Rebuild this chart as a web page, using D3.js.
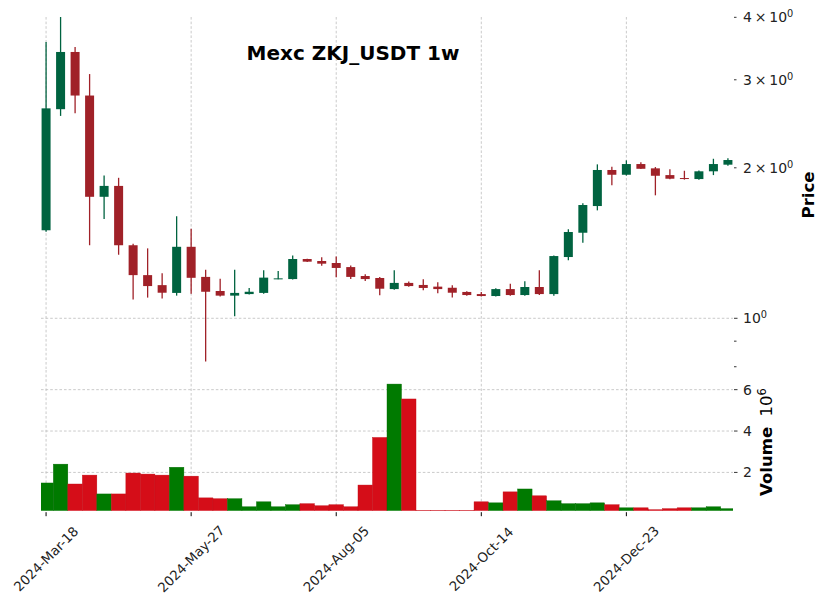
<!DOCTYPE html>
<html><head><meta charset="utf-8">
<script src="https://cdn.jsdelivr.net/npm/d3@7"></script>
<style>body{margin:0;background:#fff}svg{display:block;font-family:"DejaVu Sans",sans-serif}</style>
</head><body><svg id="c" width="826" height="606"></svg>
<script>
const title = "Mexc ZKJ_USDT 1w";
const dates = ["2024-03-18","2024-03-25","2024-04-01","2024-04-08","2024-04-15","2024-04-22","2024-04-29","2024-05-06","2024-05-13","2024-05-20",
"2024-05-27","2024-06-03","2024-06-10","2024-06-17","2024-06-24","2024-07-01","2024-07-08","2024-07-15","2024-07-22","2024-07-29",
"2024-08-05","2024-08-12","2024-08-19","2024-08-26","2024-09-02","2024-09-09","2024-09-16","2024-09-23","2024-09-30","2024-10-07",
"2024-10-14","2024-10-21","2024-10-28","2024-11-04","2024-11-11","2024-11-18","2024-11-25","2024-12-02","2024-12-09","2024-12-16",
"2024-12-23","2024-12-30","2025-01-06","2025-01-13","2025-01-20","2025-01-27","2025-02-03","2025-02-10"];
const opens  = [1.50,2.62,3.41,2.79,1.75,1.84,1.40,1.22,1.165,1.124,1.39,1.21,1.134,1.11,1.118,1.124,1.198,1.198,1.314,1.302,
1.29,1.266,1.215,1.204,1.144,1.177,1.166,1.157,1.151,1.129,1.118,1.108,1.144,1.113,1.155,1.118,1.326,1.483,1.677,1.98,
1.937,2.035,1.995,1.934,1.908,1.899,1.968,2.029];
const highs  = [3.57,4.05,3.49,3.08,1.93,1.91,1.41,1.38,1.23,1.60,1.51,1.25,1.20,1.25,1.15,1.247,1.243,1.336,1.316,1.324,
1.33,1.276,1.225,1.21,1.247,1.184,1.197,1.18,1.164,1.132,1.129,1.148,1.173,1.186,1.247,1.335,1.507,1.698,2.032,2.01,
2.07,2.051,2.007,1.986,1.973,1.976,2.085,2.089];
const lows   = [1.49,2.54,2.57,1.40,1.58,1.34,1.09,1.10,1.095,1.11,1.12,0.82,1.105,1.01,1.116,1.12,1.197,1.196,1.296,1.274,
1.208,1.198,1.188,1.112,1.141,1.157,1.138,1.122,1.101,1.11,1.106,1.105,1.11,1.11,1.113,1.11,1.306,1.416,1.644,1.845,
1.93,1.988,1.762,1.898,1.894,1.894,1.934,2.02];
const closes = [2.63,3.41,2.79,1.75,1.84,1.40,1.22,1.16,1.125,1.39,1.205,1.13,1.11,1.124,1.13,1.206,1.202,1.314,1.298,1.286,
1.261,1.21,1.198,1.146,1.177,1.16,1.15,1.144,1.125,1.113,1.108,1.144,1.113,1.155,1.118,1.332,1.488,1.685,1.98,1.937,
2.035,1.991,1.928,1.902,1.900,1.968,2.035,2.073];
const volumes = [1.49,2.40,1.44,1.87,0.96,0.96,1.97,1.92,1.87,2.25,1.82,0.77,0.73,0.73,0.34,0.58,0.34,0.44,0.49,0.39,
0.44,0.34,1.39,3.69,6.27,5.55,0.17,0.17,0.17,0.17,0.58,0.53,1.06,1.20,0.87,0.63,0.49,0.49,0.53,0.44,
0.29,0.29,0.20,0.25,0.29,0.29,0.34,0.25]; // millions
const xTickIdx = [0,10,20,30,40];
const priceTicks = [1,2,3,4];
const priceTickLabels = ["10","2\u2009×\u200910","3\u2009×\u200910","4\u2009×\u200910"];
const priceMinorTicks = [0.8,0.9];
const volTicks = [2,4,6];

const upC = "#006340", downC = "#a02128", vUp = "#007a00", vDown = "#d50d18";
const svg = d3.select("#c");
const L = 41, R = 733, pTop = 17, pBot = 369, vTop = 370, vBot = 510.7;
const x = d3.scaleLinear().domain([-0.35, dates.length - 0.65]).range([L, R]);
const y = d3.scaleLog().domain([0.7917, 4.006]).range([pBot, pTop]);
const yv = d3.scaleLinear().domain([0.15, 6.95]).range([vBot, vTop]);
const step = x(1) - x(0);
const grid = {stroke:"#bdbdbd", w:0.8, dash:"2.6,2"};

const defs = svg.append("defs");
defs.append("clipPath").attr("id","cp").append("rect").attr("x",L).attr("y",pTop).attr("width",R-L).attr("height",pBot-pTop);
defs.append("clipPath").attr("id","cv").append("rect").attr("x",L).attr("y",vTop).attr("width",R-L).attr("height",vBot-vTop);

// grids
const g = svg.append("g");
xTickIdx.forEach(i => {
  g.append("line").attr("x1",x(i)).attr("x2",x(i)).attr("y1",pTop).attr("y2",pBot)
   .attr("stroke",grid.stroke).attr("stroke-width",grid.w).attr("stroke-dasharray",grid.dash);
  g.append("line").attr("x1",x(i)).attr("x2",x(i)).attr("y1",vTop).attr("y2",vBot)
   .attr("stroke",grid.stroke).attr("stroke-width",grid.w).attr("stroke-dasharray",grid.dash);
});
g.append("line").attr("x1",L).attr("x2",R).attr("y1",y(1)).attr("y2",y(1))
 .attr("stroke",grid.stroke).attr("stroke-width",grid.w).attr("stroke-dasharray",grid.dash);
volTicks.forEach(t => g.append("line").attr("x1",L).attr("x2",R).attr("y1",yv(t)).attr("y2",yv(t))
 .attr("stroke",grid.stroke).attr("stroke-width",grid.w).attr("stroke-dasharray",grid.dash));

// candles
const data = dates.map((d,i)=>({i,o:opens[i],h:highs[i],l:lows[i],c:closes[i],v:volumes[i]}));
const cg = svg.append("g").attr("clip-path","url(#cp)");
const bw = 0.62 * step;
cg.selectAll(".w").data(data).enter().append("line")
  .attr("x1",d=>x(d.i)).attr("x2",d=>x(d.i)).attr("y1",d=>y(d.h)).attr("y2",d=>y(d.l))
  .attr("stroke",d=>d.c>=d.o?upC:downC).attr("stroke-width",1.3);
cg.selectAll(".b").data(data).enter().append("rect")
  .attr("x",d=>x(d.i)-bw/2).attr("width",bw)
  .attr("y",d=>y(Math.max(d.o,d.c))).attr("height",d=>Math.max(1,Math.abs(y(d.o)-y(d.c))))
  .attr("fill",d=>d.c>=d.o?upC:downC);

// volume
const vg = svg.append("g").attr("clip-path","url(#cv)");
vg.selectAll("rect").data(data).enter().append("rect")
  .attr("x",d=>x(d.i)-step/2).attr("width",step)
  .attr("y",d=>yv(d.v)).attr("height",d=>Math.max(0,yv(0)-yv(d.v)))
  .attr("fill",d=>d.c>=d.o?vUp:vDown).attr("stroke",d=>d.c>=d.o?"#006a00":"#c00a14").attr("stroke-width",0.4);

// price axis (right)
const fs = 14;
priceTicks.forEach((t,k) => {
  svg.append("line").attr("x1",R+1).attr("x2",R+(t===1?4.5:3.5)).attr("y1",y(t)).attr("y2",y(t)).attr("stroke","#000").attr("stroke-width",0.8);
  const tx = svg.append("text").attr("x",R+10).attr("y",y(t)).attr("dy","0.36em").attr("font-size",fs).attr("fill","#222");
  tx.append("tspan").text(priceTickLabels[k]);
  tx.append("tspan").attr("dy","-0.5em").attr("font-size",fs*0.7).text("0");
});
priceMinorTicks.forEach(t => svg.append("line").attr("x1",R+1).attr("x2",R+3.5).attr("y1",y(t)).attr("y2",y(t)).attr("stroke","#000").attr("stroke-width",0.8));
volTicks.forEach(t => {
  svg.append("line").attr("x1",R+1).attr("x2",R+4.5).attr("y1",yv(t)).attr("y2",yv(t)).attr("stroke","#000").attr("stroke-width",0.8);
  svg.append("text").attr("x",R+10).attr("y",yv(t)).attr("dy","0.36em").attr("font-size",fs).attr("fill","#222").text(t);
});

// x axis
const fmt = d3.timeFormat("%Y-%b-%d"), parse = d3.timeParse("%Y-%m-%d");
xTickIdx.forEach(i => {
  svg.append("line").attr("x1",x(i)).attr("x2",x(i)).attr("y1",vBot+1.5).attr("y2",vBot+5.5).attr("stroke","#000").attr("stroke-width",1);
  svg.append("text").attr("transform",`translate(${x(i)},559) rotate(-45)`)
    .attr("text-anchor","middle").attr("dy","0.35em").attr("font-size",13.3).attr("fill","#222")
    .text(fmt(parse(dates[i])));
});

// labels
svg.append("text").attr("transform","translate(808,195) rotate(-90)").attr("text-anchor","middle").attr("dy","0.35em")
  .attr("font-size",16.5).attr("font-weight","bold").text("Price");
const vl = svg.append("text").attr("transform","translate(766,442) rotate(-90)").attr("text-anchor","middle").attr("dy","0.35em")
  .attr("font-size",16.5);
vl.append("tspan").attr("font-weight","bold").text("Volume");
vl.append("tspan").text("\u00a0\u00a010");
vl.append("tspan").attr("dy","-0.5em").attr("font-size",11.5).text("6");

svg.append("text").attr("x",353).attr("y",60).attr("text-anchor","middle").attr("font-size",20).attr("font-weight","bold").text(title);
</script></body></html>
